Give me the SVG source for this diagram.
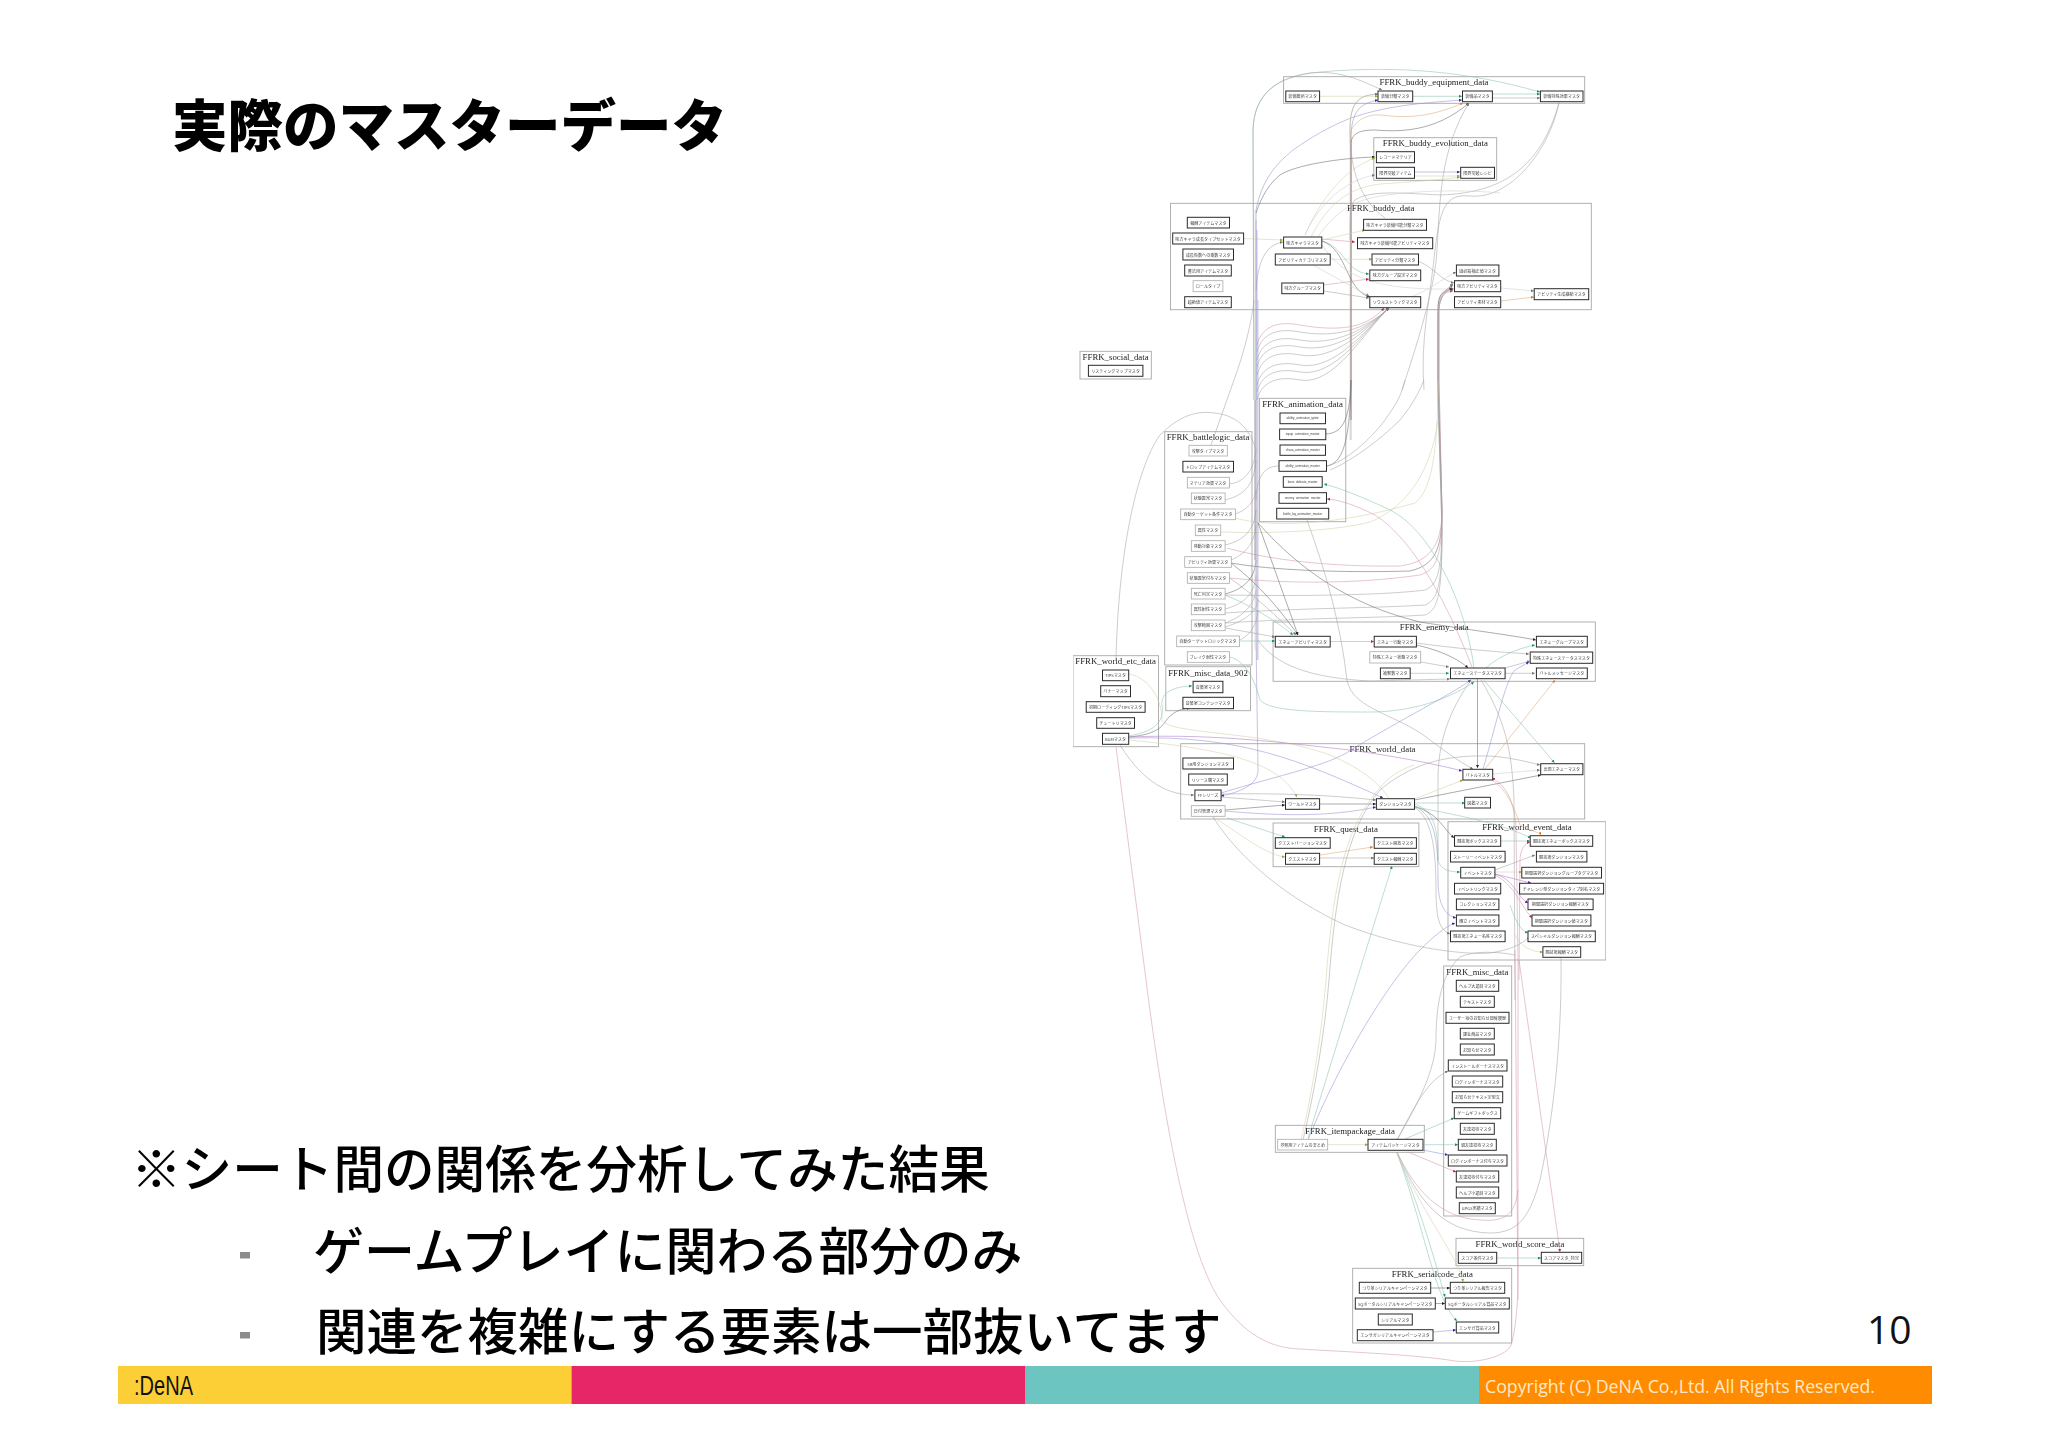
<svg xmlns="http://www.w3.org/2000/svg" width="2048" height="1447" viewBox="0 0 2048 1447">
<style>
text{font-family:"Noto Sans CJK JP","Noto Sans",sans-serif}
.s{fill:#000;font-weight:500}
.c rect{fill:none;stroke:#a8a8a8;stroke-width:.9}
.c text{font-family:"Liberation Serif",serif;font-size:8.8px;fill:#222;text-anchor:middle;dominant-baseline:central}
.n rect{fill:#fff;stroke:#2a2a2a;stroke-width:1}
.n.f rect{stroke:#aaa;stroke-width:.8}
.n text{font-size:4.1px;fill:#444;text-anchor:middle;dominant-baseline:central}
.n text.e{font-family:"Liberation Sans",sans-serif;font-size:3.1px}
#edges path{fill:none;stroke-width:.55}
.g{stroke:#a4a4a4;marker-end:url(#ag)}.d{stroke:#666;marker-end:url(#ad)}.t{stroke:#86c2ae;marker-end:url(#at)}.r{stroke:#d394aa;marker-end:url(#ar)}.b{stroke:#9391cf;marker-end:url(#ab)}.y{stroke:#d2cfa8;marker-end:url(#ay)}.o{stroke:#dda878;marker-end:url(#ao)}.p{stroke:#ad78c8;marker-end:url(#ap)}.l{stroke:#cdcdcd;marker-end:url(#ag)}
.u{marker-end:none}
</style>
<defs>
<marker id="ag" markerUnits="userSpaceOnUse" markerWidth="3" markerHeight="3" refX="3" refY="1.5" orient="auto"><path d="M0 0L3 1.5L0 3z" fill="#777"/></marker>
<marker id="ad" markerUnits="userSpaceOnUse" markerWidth="3" markerHeight="3" refX="3" refY="1.5" orient="auto"><path d="M0 0L3 1.5L0 3z" fill="#222"/></marker>
<marker id="at" markerUnits="userSpaceOnUse" markerWidth="3" markerHeight="3" refX="3" refY="1.5" orient="auto"><path d="M0 0L3 1.5L0 3z" fill="#1e9068"/></marker>
<marker id="ar" markerUnits="userSpaceOnUse" markerWidth="3" markerHeight="3" refX="3" refY="1.5" orient="auto"><path d="M0 0L3 1.5L0 3z" fill="#c02050"/></marker>
<marker id="ab" markerUnits="userSpaceOnUse" markerWidth="3" markerHeight="3" refX="3" refY="1.5" orient="auto"><path d="M0 0L3 1.5L0 3z" fill="#2a28a8"/></marker>
<marker id="ay" markerUnits="userSpaceOnUse" markerWidth="3" markerHeight="3" refX="3" refY="1.5" orient="auto"><path d="M0 0L3 1.5L0 3z" fill="#a8a030"/></marker>
<marker id="ao" markerUnits="userSpaceOnUse" markerWidth="3" markerHeight="3" refX="3" refY="1.5" orient="auto"><path d="M0 0L3 1.5L0 3z" fill="#d98030"/></marker>
<marker id="ap" markerUnits="userSpaceOnUse" markerWidth="3" markerHeight="3" refX="3" refY="1.5" orient="auto"><path d="M0 0L3 1.5L0 3z" fill="#701090"/></marker>
<filter id="soft" x="0" y="0" width="100%" height="100%"><feGaussianBlur stdDeviation=".22"/></filter>
</defs>
<rect width="2048" height="1447" fill="#fff"/>
<g id="slide">
<text x="172" y="146" font-size="55.5" font-weight="900" fill="#000">実際のマスターデータ</text>
<text class="s" x="131" y="1188" font-size="50.6">※シート間の関係を分析してみた結果</text>
<rect x="240" y="1252" width="10" height="6.5" fill="#8c8c8c"/>
<text class="s" x="313" y="1270" font-size="51">ゲームプレイに関わる部分のみ</text>
<rect x="240" y="1332" width="10" height="6.5" fill="#8c8c8c"/>
<text class="s" x="316" y="1350" font-size="50.5">関連を複雑にする要素は一部抜いてます</text>
<text x="1867" y="1344" font-size="39" fill="#111" style="font-family:'Open Sans',sans-serif">10</text>
<rect x="118" y="1366" width="453.5" height="38" fill="#fdcf36"/>
<rect x="571.5" y="1366" width="453.5" height="38" fill="#e62666"/>
<rect x="1025" y="1366" width="454" height="38" fill="#6cc5c1"/>
<rect x="1479" y="1366" width="453" height="38" fill="#ff8c00"/>
<text x="134" y="1395" font-size="27" fill="#111" textLength="59" lengthAdjust="spacingAndGlyphs" style="font-family:'Liberation Sans',sans-serif">:DeNA</text>
<text x="1485" y="1393" font-size="18.5" fill="#ffe9c8" textLength="390" lengthAdjust="spacingAndGlyphs" style="font-family:'Open Sans',sans-serif">Copyright (C) DeNA Co.,Ltd. All Rights Reserved.</text>
</g>
<g id="graph" filter="url(#soft)">
<g id="clusters">
<g class="c" id="c_equip"><rect x="1283.6" y="76.7" width="301.1" height="26.6"/><text x="1434" y="82.3">FFRK_buddy_equipment_data</text></g>
<g class="c" id="c_evol"><rect x="1373.8" y="137.7" width="122.9" height="42.6"/><text x="1435.3" y="143.3">FFRK_buddy_evolution_data</text></g>
<g class="c" id="c_buddy"><rect x="1170.5" y="203.3" width="420.8" height="106.4"/><text x="1380.7" y="208.3">FFRK_buddy_data</text></g>
<g class="c" id="c_social"><rect x="1080" y="351.3" width="71.3" height="27.7"/><text x="1115.6" y="356.7">FFRK_social_data</text></g>
<g class="c" id="c_anim"><rect x="1259.6" y="398.3" width="86.2" height="123.4"/><text x="1302.5" y="404">FFRK_animation_data</text></g>
<g class="c" id="c_battle"><rect x="1164.7" y="431.7" width="87.3" height="233.3"/><text x="1208" y="436.7">FFRK_battlelogic_data</text></g>
<g class="c" id="c_misc902"><rect x="1165.8" y="666.7" width="84.7" height="44"/><text x="1208" y="672.7">FFRK_misc_data_902</text></g>
<g class="c" id="c_worldetc"><rect x="1073" y="655.7" width="85.5" height="91"/><text x="1115.6" y="661.3">FFRK_world_etc_data</text></g>
<g class="c" id="c_enemy"><rect x="1273.1" y="622" width="322.2" height="59.3"/><text x="1434.2" y="627.3">FFRK_enemy_data</text></g>
<g class="c" id="c_world"><rect x="1180.7" y="743.7" width="404" height="75.3"/><text x="1382.5" y="749.3">FFRK_world_data</text></g>
<g class="c" id="c_quest"><rect x="1273.1" y="823" width="145.8" height="43.7"/><text x="1345.8" y="828.7">FFRK_quest_data</text></g>
<g class="c" id="c_event"><rect x="1448" y="821.7" width="157.8" height="138.3"/><text x="1526.9" y="827">FFRK_world_event_data</text></g>
<g class="c" id="c_misc"><rect x="1443.7" y="966" width="68" height="250"/><text x="1477.3" y="971.7">FFRK_misc_data</text></g>
<g class="c" id="c_item"><rect x="1275.3" y="1125.3" width="149" height="27"/><text x="1350" y="1130.7">FFRK_itempackage_data</text></g>
<g class="c" id="c_score"><rect x="1456" y="1238.3" width="127.7" height="27.4"/><text x="1520" y="1244">FFRK_world_score_data</text></g>
<g class="c" id="c_serial"><rect x="1352.7" y="1268.3" width="159" height="74.7"/><text x="1432.3" y="1273.7">FFRK_serialcode_data</text></g>
</g>
<g id="edges">
<path class="t" d="M1254 400L1253 130C1254 95 1275 76 1320 72C1400 65 1470 72 1540 92"/>
<path class="g" d="M1254 400L1253 130C1254 95 1275 78 1310 73C1340 70 1360 80 1382 90"/>
<path class="b" d="M1256 400L1256 210C1262 180 1275 165 1293 150C1310 138 1330 126 1351 118C1385 106 1420 103 1462 100"/>
<path class="y" d="M1350 440L1350 130C1350 100 1360 96 1378 94"/>
<path class="b" d="M1351 440L1351 140C1351 110 1360 104 1378 100"/>
<path class="o" d="M1351 420L1351 130C1358 118 1370 114 1380 115C1400 117 1424 120 1463 103"/>
<path class="d" d="M1351 420L1351 143C1352 132 1362 130 1375 130C1400 132 1435 132 1469 103"/>
<path class="g" d="M1402 390C1415 350 1435 290 1437 250C1440 200 1440 150 1469 103"/>
<path class="u g" d="M1559 102C1550 150 1510 200 1470 196C1445 193 1440 210 1435 250C1430 300 1420 340 1424 390"/>
<path class="u g" d="M1559 103C1540 170 1500 193 1440 195C1400 193 1370 190 1355 200C1350 205 1350 215 1350 240"/>
<path class="d" d="M1256 213C1262 195 1270 183 1280 175C1295 165 1340 158 1375 157"/>
<path class="y" d="M1305 235C1320 200 1345 168 1375 158"/>
<path class="l" d="M1305 235C1318 205 1345 180 1375 175"/>
<path class="y" d="M1311 237C1330 200 1351 188 1380 184C1410 182 1440 180 1460 177"/>
<path class="u l" d="M1317 238C1340 205 1360 198 1395 194C1430 190 1470 190 1500 193"/>
<path class="g" d="M1385 218C1360 200 1350 170 1350 130C1350 100 1360 95 1378 94"/>
<path class="y" d="M1320 96.3L1378 96.3"/>
<path class="t" d="M1413 96.3L1462 96.3"/>
<path class="t" d="M1492 94L1540 94"/>
<path class="g" d="M1492 98L1540 98"/>
<path class="b" d="M1414.5 172L1460 172"/>
<path class="y" d="M1414.5 176L1460 176"/>
<path class="y" d="M1243.6 238.5L1283 240"/>
<path class="g" d="M1256 290C1258 262 1265 245 1283 242"/>
<path class="r" d="M1322 239L1355 242"/>
<path class="y" d="M1322 240L1365 230"/>
<path class="t" d="M1322 241C1345 247 1345 272 1369 274"/>
<path class="d" d="M1322 241C1348 250 1345 290 1370 297"/>
<path class="l" d="M1322 245C1345 280 1380 290 1454 289"/>
<path class="y" d="M1330 259.3L1372 259.3"/>
<path class="r" d="M1324 285L1369 279"/>
<path class="g" d="M1324 291L1369 298"/>
<path class="l" d="M1313 265L1369 296"/>
<path class="g" d="M1418 261C1435 268 1440 280 1454 283"/>
<path class="l" d="M1411 297C1430 290 1440 280 1456 272"/>
<path class="l" d="M1501 288L1534 291"/>
<path class="o" d="M1501 301L1534 297"/>
<path class="r" d="M1257 345C1262 325 1280 321 1300 325C1335 331 1365 330 1384 308"/>
<path class="g" d="M1257 352C1262 332 1280 328 1300 332C1335 338 1365 330 1389 308"/>
<path class="g" d="M1257 360C1262 340 1280 336 1300 340C1335 346 1365 330 1389 308"/>
<path class="g" d="M1257 367C1262 347 1280 343 1300 347C1335 353 1365 330 1389 308"/>
<path class="g" d="M1257 375C1262 355 1280 351 1300 355C1335 361 1365 330 1389 308"/>
<path class="g" d="M1257 385C1262 365 1280 361 1300 365C1335 371 1365 330 1389 308"/>
<path class="g" d="M1257 392C1262 372 1280 368 1300 372C1335 378 1365 330 1389 308"/>
<path class="g" d="M1257 400C1262 380 1280 376 1300 380C1335 386 1365 330 1389 308"/>
<path class="r" d="M1227 548C1270 560 1330 567 1400 566C1430 562 1442 545 1442 510L1438 380L1438 310C1438 295 1442 290 1452 288"/>
<path class="d" d="M1231 563C1270 570 1340 573 1410 571C1435 565 1442 550 1442 510L1438 380L1438 310C1438 295 1442 291 1453 289"/>
<path class="r" d="M1229.5 578C1280 583 1350 585 1420 575C1437 570 1442 555 1442 510L1439 380L1439 310C1439 296 1442 292 1453 290"/>
<path class="g" d="M1225 595C1280 596 1380 596 1425 590C1438 585 1442 570 1442 520L1439 380L1439 310C1439 296 1444 292 1453 291"/>
<path class="g" d="M1225 613C1300 608 1380 608 1425 605C1438 600 1442 585 1442 530L1438 400L1438 320C1438 300 1444 292 1453 285"/>
<path class="g" d="M1225 623C1300 618 1380 618 1425 615C1438 610 1442 595 1442 530L1438 400L1438 320C1438 300 1444 290 1453 284"/>
<path class="u y" d="M1235 518C1270 528 1340 525 1415 503C1432 490 1438 450 1438 380"/>
<path class="u y" d="M1221 532C1280 534 1340 530 1370 522C1400 510 1430 480 1438 420"/>
<path class="u g" d="M1229.5 484C1245 482 1254 470 1256 450"/>
<path class="u g" d="M1225 500C1245 495 1254 485 1256 460"/>
<path class="u r" d="M1235 514C1248 510 1255 500 1256 490"/>
<path class="u g" d="M1225 545C1248 540 1255 525 1256 510"/>
<path class="u g" d="M1231 560C1248 553 1255 540 1256 525"/>
<path class="u d" d="M1225 594C1248 588 1255 575 1256 560"/>
<path class="u g" d="M1225 609C1248 603 1255 590 1256 575"/>
<path class="u g" d="M1225 623C1248 615 1255 600 1256 590"/>
<path class="u g" d="M1225 627C1248 620 1257 610 1258 600"/>
<path class="u g" d="M1240 640C1250 635 1257 625 1258 610"/>
<path class="u g" d="M1279 466C1265 466 1257 475 1256 500"/>
<path class="b" d="M1256 220L1256 640L1258 770C1258 785 1240 792 1221 796"/>
<path class="u l" d="M1255 210L1255 650"/>
<path class="u b" d="M1257 230L1257 660"/>
<path class="u d" d="M1255 400L1255 560"/>
<path class="u g" d="M1258 300L1258 660"/>
<path class="d" d="M1231 563C1260 585 1280 610 1298 635"/>
<path class="g" d="M1229.5 578C1255 595 1280 620 1296 635"/>
<path class="t" d="M1225 595C1250 605 1275 620 1293 635"/>
<path class="d" d="M1258 523L1298 635"/>
<path class="g" d="M1225.5 628L1275 637"/>
<path class="t" d="M1240 641L1275 641"/>
<path class="d" d="M1258 523C1300 570 1350 605 1420 622C1470 630 1510 635 1536 640"/>
<path class="g" d="M1307 520C1325 570 1340 620 1347 680C1352 710 1400 715 1430 740C1450 755 1465 765 1473 769"/>
<path class="t" d="M1474 668C1465 600 1430 530 1390 510C1365 498 1340 488 1324 484"/>
<path class="r" d="M1472 667C1450 610 1415 540 1375 515C1355 505 1340 500 1327 499"/>
<path class="u d" d="M1326 434C1340 433 1350 425 1351 380"/>
<path class="u d" d="M1327 466C1340 463 1350 450 1351 380"/>
<path class="u g" d="M1327 466C1345 462 1370 440 1385 420C1395 405 1400 400 1405 380"/>
<path class="u g" d="M1330 470C1350 462 1380 440 1400 420C1412 405 1418 395 1424 380"/>
<path class="u g" d="M1116 660C1118 560 1135 470 1160 435C1185 410 1205 410 1225 415C1240 420 1250 430 1256 450"/>
<path class="u g" d="M1211 445L1234 380C1245 350 1252 320 1254 300"/>
<path class="t" d="M1229.5 657C1245 660 1255 680 1260 700C1270 712 1320 712 1370 712C1400 712 1440 705 1474 682"/>
<path class="g" d="M1258 640C1275 665 1310 678 1370 681L1450 679"/>
<path class="r" d="M1330 641.5L1374 641.5"/>
<path class="d" d="M1416 645C1440 650 1460 660 1468 668"/>
<path class="g" d="M1416 643C1470 650 1500 652 1529 654"/>
<path class="g" d="M1421 662L1449 667"/>
<path class="t" d="M1410 673.3L1449 673.3"/>
<path class="t" d="M1486 668C1500 655 1520 648 1535 645"/>
<path class="g" d="M1505 668L1530 661"/>
<path class="g" d="M1505 673.3L1535 673.3"/>
<path class="b" d="M1483 769C1495 730 1505 680 1515 670L1529 662"/>
<path class="o" d="M1485 769L1555 680"/>
<path class="d" d="M1477.5 679L1477.5 768"/>
<path class="t" d="M1483.6 680L1554.5 762.7"/>
<path class="b" d="M1221 793C1280 775 1330 765 1351 750C1400 720 1450 695 1471 680"/>
<path class="u g" d="M1471 680C1450 710 1438 740 1438 780L1438 860"/>
<path class="u g" d="M1481 680C1505 720 1512 750 1514 800L1515 1000"/>
<path class="g" d="M1120 745C1145 785 1170 795 1194 795"/>
<path class="r" d="M1116 747L1146 980C1160 1090 1185 1250 1220 1300C1245 1335 1270 1348 1300 1349C1350 1352 1420 1355 1455 1361C1480 1364 1508 1355 1511 1345C1516 1330 1518 1300 1518 1280L1518 960L1516 830C1515 800 1505 785 1492 778"/>
<path class="d" d="M1129 737C1150 735 1160 730 1165 722C1172 712 1180 709 1190 708"/>
<path class="t" d="M1129 736C1150 732 1165 725 1162 705C1160 690 1180 686 1192 686"/>
<path class="u y" d="M1129 674C1150 678 1162 700 1162 720C1170 735 1260 730 1330 755C1365 770 1380 785 1389 798"/>
<path class="p" d="M1129 737C1220 733 1300 745 1350 750C1400 757 1440 765 1462 771"/>
<path class="b" d="M1129 738C1240 735 1300 760 1383 798"/>
<path class="y" d="M1129 740C1235 750 1280 765 1297 797"/>
<path class="g" d="M1221 797L1285 802"/>
<path class="g" d="M1221 794C1280 793 1330 795 1376 800"/>
<path class="d" d="M1225 810L1285 805"/>
<path class="b" d="M1225 811C1280 816 1330 817 1376 807"/>
<path class="d" d="M1320 804L1376 804"/>
<path class="y" d="M1414.5 799L1463 780"/>
<path class="d" d="M1414.5 800L1541 775"/>
<path class="t" d="M1414.5 803L1465 803"/>
<path class="t" d="M1414 804C1435 810 1438 830 1438 860C1440 870 1450 872 1460 872"/>
<path class="d" d="M1414 806C1440 815 1440 825 1454 838"/>
<path class="t" d="M1414 807C1460 815 1505 825 1531 838"/>
<path class="b" d="M1414 806C1435 815 1438 840 1438 880C1438 905 1445 915 1456 918"/>
<path class="g" d="M1414 807C1432 817 1436 850 1436 890C1436 920 1440 930 1450 934"/>
<path class="l" d="M1492.7 774L1540 770"/>
<path class="g" d="M1303 1140C1315 1090 1325 1030 1329 980C1335 900 1345 830 1380 790C1410 765 1440 757 1475 756C1500 755 1520 760 1540 765"/>
<path class="u y" d="M1301 1140C1313 1090 1322 1030 1326 980C1332 900 1342 830 1378 790C1390 775 1400 770 1414 765"/>
<path class="t" d="M1308 1138L1392 866"/>
<path class="b" d="M1308 1140C1340 1060 1390 980 1420 950C1435 935 1445 927 1455 923"/>
<path class="t" d="M1227 818L1285 837"/>
<path class="y" d="M1213 817C1235 830 1265 855 1285 857"/>
<path class="g" d="M1213 817C1240 860 1290 900 1345 925C1410 950 1470 955 1490 953C1510 950 1520 945 1530 937"/>
<path class="o" d="M1320 855L1373 847"/>
<path class="g" d="M1320 858L1374 858"/>
<path class="t" d="M1501 841L1530 841"/>
<path class="g" d="M1495 870L1535 855"/>
<path class="y" d="M1495 872L1522 872"/>
<path class="p" d="M1495 874L1531 883"/>
<path class="p" d="M1495 874C1515 880 1515 895 1528 903"/>
<path class="r" d="M1495 875C1515 885 1520 905 1532 918"/>
<path class="t" d="M1510 905C1515 920 1520 930 1528 933"/>
<path class="y" d="M1515 935C1520 945 1530 952 1543 952"/>
<path class="r" d="M1519 980L1520 860C1520 850 1525 843 1530 842"/>
<path class="o" d="M1492 780C1508 790 1515 810 1520 825C1530 830 1540 833 1541 835"/>
<path class="y" d="M1328 1144.7L1368 1144.7"/>
<path class="t" d="M1423 1144.7L1458 1144.7"/>
<path class="t" d="M1405 1139L1454 1118"/>
<path class="g" d="M1397 1140C1420 1095 1430 1080 1448 1071"/>
<path class="b" d="M1423 1150L1448 1155"/>
<path class="r" d="M1408 1152L1456 1172"/>
<path class="u r" d="M1397 1152C1415 1190 1440 1218 1480 1220C1505 1222 1515 1215 1518 1190"/>
<path class="u g" d="M1397 1152C1420 1205 1445 1232 1490 1233C1520 1233 1530 1215 1540 1180C1555 1110 1562 1030 1561 958"/>
<path class="u g" d="M1397 1140C1420 1100 1435 1070 1436 1040C1436 1010 1440 975 1460 957C1475 950 1500 952 1515 955"/>
<path class="t" d="M1397 1153C1425 1230 1435 1300 1457 1321"/>
<path class="t" d="M1397 1153C1425 1220 1440 1280 1445 1297"/>
<path class="y" d="M1397 1153C1420 1210 1460 1260 1463 1282"/>
<path class="d" d="M1431 1288L1450 1288"/>
<path class="d" d="M1435 1303.5L1445 1303.5"/>
<path class="b" d="M1433 1332L1456 1330"/>
<path class="t" d="M1497 1258L1541 1258"/>
<path class="r" d="M1519 960L1560 1252"/>
<path class="u r" d="M1515 950L1518 1300"/>
</g>
<g id="nodes">
<g class="n" id="n1"><rect x="1285.8" y="91" width="33.8" height="10.7"/><text x="1302.7" y="96.3">装備箇所マスタ</text></g>
<g class="n" id="n2"><rect x="1378" y="91" width="34.7" height="10.7"/><text x="1395.3" y="96.3">装備分類マスタ</text></g>
<g class="n" id="n3"><rect x="1462.5" y="91" width="29.9" height="10.7"/><text x="1477.5" y="96.3">装備品マスタ</text></g>
<g class="n" id="n4"><rect x="1540.4" y="91" width="42.6" height="10.7"/><text x="1561.7" y="96.3">装備特殊効果マスタ</text></g>
<g class="n" id="n5"><rect x="1376.4" y="151.7" width="38.1" height="11"/><text x="1395.5" y="157.2">レコードマテリア</text></g>
<g class="n" id="n6"><rect x="1376.4" y="167.3" width="38.1" height="11"/><text x="1395.5" y="172.8">限界突破アイテム</text></g>
<g class="n" id="n7"><rect x="1460.7" y="167.3" width="33.8" height="11"/><text x="1477.6" y="172.8">限界突破レシピ</text></g>
<g class="n" id="n8"><rect x="1187.3" y="217.3" width="42.2" height="10.7"/><text x="1208.4" y="222.6">報酬アイテムマスタ</text></g>
<g class="n" id="n9"><rect x="1172.7" y="233" width="70.9" height="11"/><text x="1208.1" y="238.5">味方キャラ成長タイプセットマスタ</text></g>
<g class="n" id="n10"><rect x="1182.9" y="249" width="50.6" height="11"/><text x="1208.2" y="254.5">成長係数への乗数マスタ</text></g>
<g class="n" id="n11"><rect x="1184.7" y="265" width="46.6" height="11"/><text x="1208" y="270.5">書法用アイテムマスタ</text></g>
<g class="n f" id="n12"><rect x="1193.1" y="280.7" width="29.8" height="11"/><text x="1208" y="286.2">ロールタイプ</text></g>
<g class="n" id="n13"><rect x="1184.7" y="296.7" width="46.6" height="11"/><text x="1208" y="302.2">超絶値アイテムマスタ</text></g>
<g class="n" id="n14"><rect x="1283.6" y="237" width="38.2" height="11"/><text x="1302.7" y="242.5">味方キャラマスタ</text></g>
<g class="n" id="n15"><rect x="1275.3" y="254" width="54.9" height="11"/><text x="1302.7" y="259.5">アビリティカテゴリマスタ</text></g>
<g class="n" id="n16"><rect x="1281.8" y="283" width="41.8" height="10.7"/><text x="1302.7" y="288.3">味方グループマスタ</text></g>
<g class="n" id="n17"><rect x="1363.6" y="219.3" width="62.9" height="11"/><text x="1395" y="224.8">味方キャラ装備可能分類マスタ</text></g>
<g class="n" id="n18"><rect x="1357.5" y="237.7" width="75.2" height="11"/><text x="1395.1" y="243.2">味方キャラ装備可能アビリティマスタ</text></g>
<g class="n" id="n19"><rect x="1372" y="254" width="46.5" height="11"/><text x="1395.2" y="259.5">アビリティ分類マスタ</text></g>
<g class="n" id="n20"><rect x="1369.8" y="270" width="50.9" height="10.7"/><text x="1395.2" y="275.3">味方グループ設定マスタ</text></g>
<g class="n" id="n21"><rect x="1369.8" y="296.7" width="50.9" height="11"/><text x="1395.2" y="302.2">ソウルストライクマスタ</text></g>
<g class="n" id="n22"><rect x="1456.4" y="265" width="42.5" height="11"/><text x="1477.6" y="270.5">固必殺補正値マスタ</text></g>
<g class="n" id="n23"><rect x="1454.5" y="280.7" width="46.2" height="11"/><text x="1477.6" y="286.2">味方アビリティマスタ</text></g>
<g class="n" id="n24"><rect x="1454.5" y="296.7" width="46.2" height="11"/><text x="1477.6" y="302.2">アビリティ素材マスタ</text></g>
<g class="n" id="n25"><rect x="1534.2" y="288.7" width="54.5" height="11"/><text x="1561.5" y="294.2">アビリティ生成継続マスタ</text></g>
<g class="n" id="n26"><rect x="1088.4" y="365.3" width="54.5" height="11"/><text x="1115.6" y="370.8">リスティングマップマスタ</text></g>
<g class="n" id="n27"><rect x="1280" y="413" width="45.5" height="10.7"/><text class="e" x="1302.7" y="418.3">ability_animation_ignite</text></g>
<g class="n" id="n28"><rect x="1279.6" y="429" width="46.2" height="10.7"/><text class="e" x="1302.7" y="434.3">equip_animation_master</text></g>
<g class="n" id="n29"><rect x="1280" y="445" width="45.5" height="10.3"/><text class="e" x="1302.7" y="450.1">chara_animation_master</text></g>
<g class="n" id="n30"><rect x="1279" y="460.7" width="47.5" height="10.6"/><text class="e" x="1302.7" y="466">ability_animation_master</text></g>
<g class="n" id="n31"><rect x="1283.3" y="476.7" width="38.9" height="10.6"/><text class="e" x="1302.7" y="482">boss_defeate_master</text></g>
<g class="n" id="n32"><rect x="1279" y="492.7" width="47.5" height="10.6"/><text class="e" x="1302.7" y="498">enemy_animation_master</text></g>
<g class="n" id="n33"><rect x="1276.7" y="508.3" width="52" height="10.7"/><text class="e" x="1302.7" y="513.6">battle_bg_animation_master</text></g>
<g class="n f" id="n34"><rect x="1189" y="445.3" width="38.3" height="10.7"/><text x="1208" y="450.6">攻撃タイプマスタ</text></g>
<g class="n" id="n35"><rect x="1182.9" y="461.3" width="50.6" height="10.7"/><text x="1208" y="466.6">ドロップアイテムマスタ</text></g>
<g class="n f" id="n36"><rect x="1187.3" y="477.3" width="42.2" height="10.7"/><text x="1208" y="482.6">マテリア効果マスタ</text></g>
<g class="n f" id="n37"><rect x="1191.3" y="493" width="33.8" height="10.7"/><text x="1208" y="498.3">状態異常マスタ</text></g>
<g class="n f" id="n38"><rect x="1180.7" y="509" width="54.9" height="10.7"/><text x="1208" y="514.3">自動ターゲット条件マスタ</text></g>
<g class="n f" id="n39"><rect x="1195.3" y="525" width="25.4" height="10.7"/><text x="1208" y="530.3">属性マスタ</text></g>
<g class="n f" id="n40"><rect x="1191.3" y="540.7" width="33.8" height="10.6"/><text x="1208" y="546">発動対象マスタ</text></g>
<g class="n f" id="n41"><rect x="1184.7" y="556.7" width="46.6" height="10.6"/><text x="1208" y="562">アビリティ効果マスタ</text></g>
<g class="n f" id="n42"><rect x="1187.3" y="572.7" width="42.2" height="10.6"/><text x="1208" y="578">状態異常付与マスタ</text></g>
<g class="n f" id="n43"><rect x="1191.3" y="588.3" width="33.8" height="10.7"/><text x="1208" y="593.6">死亡判定マスタ</text></g>
<g class="n f" id="n44"><rect x="1191.3" y="604" width="33.8" height="10.7"/><text x="1208" y="609.3">属性耐性マスタ</text></g>
<g class="n f" id="n45"><rect x="1191.3" y="620" width="33.8" height="10.7"/><text x="1208" y="625.3">攻撃範囲マスタ</text></g>
<g class="n f" id="n46"><rect x="1176.7" y="636" width="62.9" height="10.7"/><text x="1208" y="641.3">自動ターゲットロジックマスタ</text></g>
<g class="n f" id="n47"><rect x="1187.3" y="651.7" width="42.2" height="10.6"/><text x="1208" y="657">ブレイク耐性マスタ</text></g>
<g class="n" id="n48"><rect x="1193.1" y="681.3" width="29.8" height="11.4"/><text x="1208" y="687">音楽室マスタ</text></g>
<g class="n" id="n49"><rect x="1182.9" y="697.3" width="50.6" height="11.4"/><text x="1208" y="703">音楽室コンテンツマスタ</text></g>
<g class="n" id="n50"><rect x="1102.5" y="670" width="26.2" height="10.7"/><text x="1115.6" y="675.3">TIPSマスタ</text></g>
<g class="n" id="n51"><rect x="1100.7" y="685.7" width="29.8" height="11"/><text x="1115.6" y="691.2">バナーマスタ</text></g>
<g class="n" id="n52"><rect x="1086.2" y="701.7" width="58.9" height="10.6"/><text x="1115.6" y="707">初期ローディングTIPSマスタ</text></g>
<g class="n" id="n53"><rect x="1096.7" y="717.7" width="37.8" height="10.6"/><text x="1115.6" y="723">チュートリマスタ</text></g>
<g class="n" id="n54"><rect x="1102.5" y="733.3" width="26.2" height="11"/><text x="1115.6" y="738.8">BGMマスタ</text></g>
<g class="n" id="n55"><rect x="1275.3" y="636.3" width="54.9" height="10.7"/><text x="1302.7" y="641.6">エネミーアビリティマスタ</text></g>
<g class="n" id="n56"><rect x="1374.2" y="636.3" width="42.2" height="10.7"/><text x="1395.3" y="641.6">エネミー行動マスタ</text></g>
<g class="n f" id="n57"><rect x="1369.8" y="651.7" width="50.9" height="11.3"/><text x="1395.2" y="657.3">特殊エネミー状態マスタ</text></g>
<g class="n" id="n58"><rect x="1380.4" y="668" width="29.8" height="10.7"/><text x="1395.3" y="673.3">被撃数マスタ</text></g>
<g class="n" id="n59"><rect x="1450.5" y="668" width="54.6" height="10.7"/><text x="1477.8" y="673.3">エネミーステータスマスタ</text></g>
<g class="n" id="n60"><rect x="1536.4" y="636.3" width="50.9" height="10.7"/><text x="1561.8" y="641.6">エネミーグループマスタ</text></g>
<g class="n" id="n61"><rect x="1530.2" y="652" width="62.5" height="11.3"/><text x="1561.5" y="657.6">特殊エネミーステータスマスタ</text></g>
<g class="n" id="n62"><rect x="1536.4" y="668" width="50.9" height="10.7"/><text x="1561.8" y="673.3">バトルメッセージマスタ</text></g>
<g class="n" id="n63"><rect x="1182.9" y="758" width="50.6" height="11"/><text x="1208.2" y="763.5">SR用ダンジョンマスタ</text></g>
<g class="n" id="n64"><rect x="1188.7" y="774" width="38.6" height="11"/><text x="1208" y="779.5">リソース購マスタ</text></g>
<g class="n" id="n65"><rect x="1194.9" y="790" width="26.2" height="10.7"/><text x="1208" y="795.3">FFシリーズ</text></g>
<g class="n f" id="n66"><rect x="1191.3" y="805.7" width="33.8" height="10.6"/><text x="1208.2" y="811">日付管理マスタ</text></g>
<g class="n" id="n67"><rect x="1285.5" y="798.7" width="34.1" height="10.6"/><text x="1302.5" y="804">ワールドマスタ</text></g>
<g class="n" id="n68"><rect x="1376.4" y="798.7" width="38.1" height="10.6"/><text x="1395.5" y="804">ダンジョンマスタ</text></g>
<g class="n" id="n69"><rect x="1462.9" y="769.3" width="29.8" height="10.7"/><text x="1477.8" y="774.6">バトルマスタ</text></g>
<g class="n" id="n70"><rect x="1464.7" y="797.3" width="25.8" height="10.7"/><text x="1477.6" y="802.6">図鑑マスタ</text></g>
<g class="n" id="n71"><rect x="1540.7" y="763.7" width="42.2" height="11"/><text x="1561.8" y="769.2">出現エネミーマスタ</text></g>
<g class="n" id="n72"><rect x="1275.3" y="837.7" width="54.9" height="10.6"/><text x="1302.7" y="843">クエストバージョンマスタ</text></g>
<g class="n" id="n73"><rect x="1285.5" y="853.3" width="34.1" height="11"/><text x="1302.5" y="858.8">クエストマスタ</text></g>
<g class="n" id="n74"><rect x="1374.2" y="837.7" width="42.2" height="10.6"/><text x="1395.3" y="843">クエスト開放マスタ</text></g>
<g class="n" id="n75"><rect x="1374.2" y="853.3" width="42.2" height="11"/><text x="1395.3" y="858.8">クエスト報酬マスタ</text></g>
<g class="n" id="n76"><rect x="1454.5" y="835.7" width="46.2" height="10.6"/><text x="1477.6" y="841">闘技場ボックスマスタ</text></g>
<g class="n" id="n77"><rect x="1450.5" y="851.3" width="54.6" height="10.7"/><text x="1477.8" y="856.6">ストーリーイベントマスタ</text></g>
<g class="n" id="n78"><rect x="1460.7" y="867.3" width="34.2" height="10.7"/><text x="1477.8" y="872.6">イベントマスタ</text></g>
<g class="n" id="n79"><rect x="1454.5" y="883.3" width="46.2" height="10.7"/><text x="1477.6" y="888.6">イベントリンクマスタ</text></g>
<g class="n" id="n80"><rect x="1456.4" y="899" width="42.5" height="10.7"/><text x="1477.6" y="904.3">コレクションマスタ</text></g>
<g class="n" id="n81"><rect x="1456.4" y="915" width="42.5" height="11"/><text x="1477.6" y="920.5">確立イベントマスタ</text></g>
<g class="n" id="n82"><rect x="1450.5" y="931" width="54.6" height="10.7"/><text x="1477.8" y="936.3">闘技場エネミー名称マスタ</text></g>
<g class="n" id="n83"><rect x="1530.2" y="835.7" width="62.5" height="10.6"/><text x="1561.5" y="841">闘技場エネミーボックスマスタ</text></g>
<g class="n" id="n84"><rect x="1536.4" y="851.3" width="50.5" height="10.7"/><text x="1561.6" y="856.6">闘技場ダンジョンマスタ</text></g>
<g class="n" id="n85"><rect x="1521.8" y="867.3" width="79.7" height="10.7"/><text x="1561.6" y="872.6">期間選択ダンジョングループタグマスタ</text></g>
<g class="n" id="n86"><rect x="1519.6" y="883.3" width="84" height="10.7"/><text x="1561.6" y="888.6">チャレンジ型ダンジョンタイプ別名マスタ</text></g>
<g class="n" id="n87"><rect x="1528" y="899" width="65.1" height="10.7"/><text x="1560.5" y="904.3">期間選択ダンジョン報酬マスタ</text></g>
<g class="n" id="n88"><rect x="1532" y="915" width="58.9" height="11"/><text x="1561.4" y="920.5">期間選択ダンジョン値マスタ</text></g>
<g class="n" id="n89"><rect x="1528" y="931" width="67.3" height="10.7"/><text x="1561.6" y="936.3">スペシャルダンジョン報酬マスタ</text></g>
<g class="n" id="n90"><rect x="1542.9" y="946.7" width="37.8" height="10.6"/><text x="1561.8" y="952">闘技場報酬マスタ</text></g>
<g class="n" id="n91"><rect x="1456.3" y="980.3" width="42.4" height="11"/><text x="1477.5" y="985.8">ヘルプ大項目マスタ</text></g>
<g class="n" id="n92"><rect x="1460.3" y="996.3" width="34" height="11"/><text x="1477.3" y="1001.8">テキストマスタ</text></g>
<g class="n" id="n93"><rect x="1446" y="1012.3" width="63" height="11"/><text x="1477.5" y="1017.8">ユーザー毎のお知らせ閲覧履歴</text></g>
<g class="n" id="n94"><rect x="1460.3" y="1028.3" width="34" height="10.7"/><text x="1477.3" y="1033.6">課金商品マスタ</text></g>
<g class="n" id="n95"><rect x="1460.3" y="1044" width="34" height="11"/><text x="1477.3" y="1049.5">お知らせマスタ</text></g>
<g class="n" id="n96"><rect x="1448.3" y="1060" width="58.7" height="11"/><text x="1477.6" y="1065.5">インストールボーナスマスタ</text></g>
<g class="n" id="n97"><rect x="1452.3" y="1076" width="50.4" height="11"/><text x="1477.5" y="1081.5">ログインボーナスマスタ</text></g>
<g class="n" id="n98"><rect x="1452.3" y="1091.7" width="50.4" height="11"/><text x="1477.5" y="1097.2">お知らせテキスト定型文</text></g>
<g class="n" id="n99"><rect x="1454.3" y="1107.7" width="46.4" height="11"/><text x="1477.5" y="1113.2">ゲームギフトボックス</text></g>
<g class="n" id="n100"><rect x="1460.3" y="1123.3" width="34" height="11"/><text x="1477.3" y="1128.8">友達招待マスタ</text></g>
<g class="n" id="n101"><rect x="1458.3" y="1139.3" width="38" height="11"/><text x="1477.3" y="1144.8">親友達招待マスタ</text></g>
<g class="n" id="n102"><rect x="1448.3" y="1155" width="58.7" height="11"/><text x="1477.6" y="1160.5">ログインボーナス付与マスタ</text></g>
<g class="n" id="n103"><rect x="1456.3" y="1171" width="42.4" height="11"/><text x="1477.5" y="1176.5">友達招待付与マスタ</text></g>
<g class="n" id="n104"><rect x="1456.3" y="1187" width="42.4" height="11"/><text x="1477.5" y="1192.5">ヘルプ小項目マスタ</text></g>
<g class="n" id="n105"><rect x="1459.3" y="1202.7" width="36" height="11"/><text x="1477.3" y="1208.2">GPGS実績マスタ</text></g>
<g class="n f" id="n106"><rect x="1277.7" y="1139.3" width="50" height="10.7"/><text x="1302.7" y="1144.6">参照用アイテムのまとめ</text></g>
<g class="n" id="n107"><rect x="1368" y="1139.3" width="55" height="11"/><text x="1395.5" y="1144.8">アイテムパッケージマスタ</text></g>
<g class="n" id="n108"><rect x="1458.3" y="1252.3" width="38.4" height="11"/><text x="1477.5" y="1257.8">スコア条件マスタ</text></g>
<g class="n" id="n109"><rect x="1541.3" y="1252.3" width="40.4" height="11"/><text x="1561.5" y="1257.8">スコアマスタ_特定</text></g>
<g class="n" id="n110"><rect x="1359.3" y="1282.3" width="71.4" height="11"/><text x="1395" y="1287.8">つり革シリアルキャンペーンマスタ</text></g>
<g class="n" id="n111"><rect x="1355.3" y="1298" width="80" height="11"/><text x="1395.3" y="1303.5">SQポータルシリアルキャンペーンマスタ</text></g>
<g class="n" id="n112"><rect x="1378.3" y="1314" width="34" height="11"/><text x="1395.3" y="1319.5">シリアルマスタ</text></g>
<g class="n" id="n113"><rect x="1357.3" y="1329.7" width="75.7" height="11"/><text x="1395.2" y="1335.2">エンサガシリアルキャンペーンマスタ</text></g>
<g class="n" id="n114"><rect x="1450.3" y="1282.3" width="54.4" height="11"/><text x="1477.5" y="1287.8">つり革シリアル報告マスタ</text></g>
<g class="n" id="n115"><rect x="1445.3" y="1298" width="64" height="11"/><text x="1477.3" y="1303.5">SQポータルシリアル賞品マスタ</text></g>
<g class="n" id="n116"><rect x="1456.3" y="1322" width="42.4" height="11"/><text x="1477.5" y="1327.5">エンサガ賞品マスタ</text></g>
</g>
</g>
</svg>
